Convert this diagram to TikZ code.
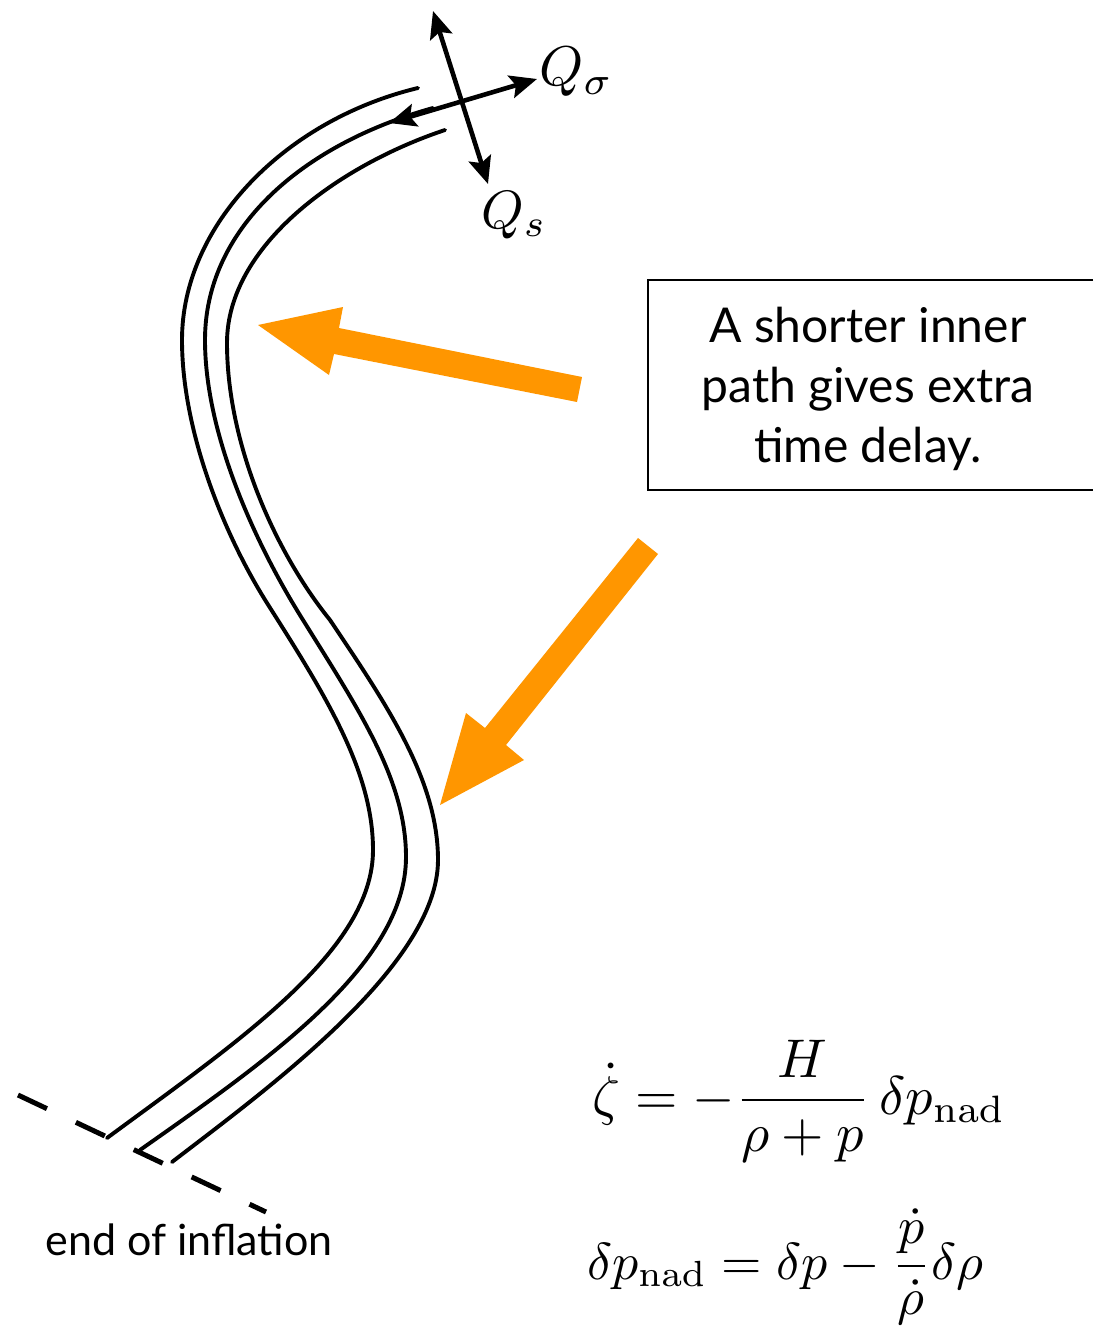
\documentclass[tikz,border=0pt]{standalone}
\usepackage{amsmath}
\usepackage{graphicx}
\usepackage[no-math]{fontspec}
\newfontfamily\gillfont{Lato}
\usetikzlibrary{arrows.meta}
\definecolor{orng}{RGB}{255,150,0}
\newcommand{\bigmath}[2]{\scalebox{#1}{#2}}
\begin{document}
\begin{tikzpicture}[x=1pt,y=-1pt,
  trackline/.style={line width=3.9pt, line cap=round},
  basisarrow/.style={line width=4.6pt, {Stealth[length=27pt,width=23pt,inset=5pt]}-{Stealth[length=27pt,width=23pt,inset=5pt]}},
  blockarrow/.style={fill=orng, draw=none},
  endline/.style={line width=5pt, dash pattern=on 32pt off 32pt},
  labeltext/.style={font=\gillfont\fontsize{43}{50}\selectfont, inner sep=0pt},
  boxtext/.style={font=\gillfont\fontsize{48}{60}\selectfont, align=center, inner sep=0pt},
  mathlabel/.style={inner sep=0pt},
  eqtext/.style={inner sep=0pt}]
\useasboundingbox (0,0) rectangle (1093,1327);

% three trajectories
\draw[trackline] (418,88) .. controls (285,120) and (182,225) .. (182,340)
  .. controls (182,430) and (223,533) .. (267,603)
  .. controls (324,693) and (373,770) .. (373,850)
  .. controls (373,950) and (240,1040) .. (107,1138);
\draw[trackline] (433,108) .. controls (300,145) and (205,230) .. (205,340)
  .. controls (205,435) and (256,545) .. (303,620)
  .. controls (359,710) and (406,780) .. (406,857)
  .. controls (406,965) and (265,1062) .. (140,1150);
\draw[trackline] (445,130) .. controls (340,165) and (227,245) .. (227,343)
  .. controls (227,440) and (272,548) .. (330,620)
  .. controls (387,705) and (438,780) .. (438,860)
  .. controls (438,965) and (267,1089) .. (172,1162);

% end of inflation line
\coordinate (endA) at (18,1095);
\coordinate (endB) at (266,1212);
\draw[endline] (endA) -- (endB);
\node[labeltext, anchor=base] (endlabel) at (189,1255) {end of inflation};

% field-space basis
\coordinate (qsTop) at (433,11);
\coordinate (qsBot) at (488,184);
\coordinate (qsigL) at (389,123);
\coordinate (qsigR) at (537,79);
\draw[basisarrow] (qsTop) -- (qsBot);
\draw[basisarrow] (qsigL) -- (qsigR);
\node[mathlabel, anchor=base west] (qsig) at (539,86) {\bigmath{5.6}{$Q_\sigma$}};
\node[mathlabel, anchor=base west] (qs) at (481,228) {\bigmath{5.4}{$Q_s$}};

% text box
\draw[line width=2.5pt] (1093,280) -- (648,280) -- (648,490) -- (1093,490);
\node[boxtext] (boxlabel) at (868,389) {A shorter inner\\path gives extra\\time delay.};

% orange block arrows
\fill[blockarrow] (258,325) -- (343,307) -- (339,328) -- (582,377) -- (577,402) -- (334,354) -- (329,375) -- cycle;
\fill[blockarrow] (440,805) -- (466,713) -- (485,728) -- (638,538) -- (658,554) -- (506,745) -- (524,760) -- cycle;

% equations
\node[eqtext, anchor=base] (eqone) at (799,1114) {\bigmath{5.45}{$\dot\zeta = -\dfrac{H}{\rho+p}\,\delta p_{\rm nad}$}};
\node[eqtext, anchor=base] (eqtwo) at (785,1279) {\bigmath{5.2}{$\delta p_{\rm nad} = \delta p - \dfrac{\dot p}{\dot\rho}\delta\rho$}};
\end{tikzpicture}
\end{document}
